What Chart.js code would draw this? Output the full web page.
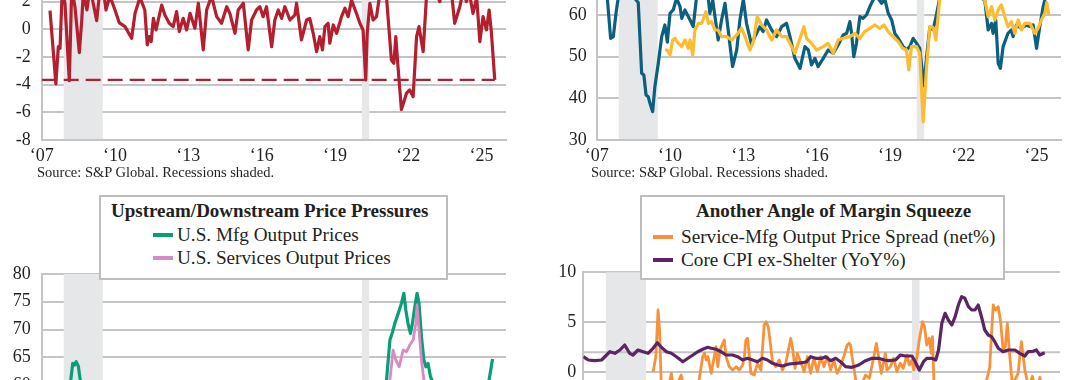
<!DOCTYPE html>
<html>
<head>
<meta charset="utf-8">
<script src="https://cdn.jsdelivr.net/npm/chart.js@4.4.1/dist/chart.umd.min.js"></script>
<style>
  body { margin: 0; background: #fff; }
  #page { position: relative; width: 1080px; height: 380px; overflow: hidden; background: #fff;
          font-family: "Liberation Serif", "Times New Roman", serif; color: #231f20; }
  .box { position: absolute; }
  .src { position: absolute; font-size: 14.5px; line-height: 17px; white-space: nowrap; }
  .legend { position: absolute; box-sizing: border-box; border: 2px solid #bdbdbd; background: #fff; }
  .ltitle { position: absolute; font-weight: bold; font-size: 19px; line-height: 22px; white-space: nowrap; }
  .ltext { position: absolute; font-size: 19.2px; line-height: 22px; white-space: nowrap; }
  .sw { position: absolute; width: 20px; height: 4px; }
</style>
</head>
<body>
<div id="page">
  <div class="box" style="left:0;top:-79px"><canvas id="c1" width="540" height="244"></canvas></div>
  <div class="box" style="left:540px;top:-52px"><canvas id="c2" width="540" height="217"></canvas></div>
  <div class="box" style="left:0;top:248px"><canvas id="c3" width="540" height="300"></canvas></div>
  <div class="box" style="left:540px;top:247px"><canvas id="c4" width="540" height="320"></canvas></div>

  <div class="src" style="left:37px;top:164px">Source: S&amp;P Global. Recessions shaded.</div>
  <div class="src" style="left:591px;top:164px">Source: S&amp;P Global. Recessions shaded.</div>

  <div class="legend" style="left:99px;top:195px;width:349px;height:85px">
    <div class="ltitle" style="left:10px;top:3px">Upstream/Downstream Price Pressures</div>
    <div class="sw" style="left:52px;top:36px;background:#0a9e78"></div>
    <div class="ltext" style="left:76px;top:27px">U.S. Mfg Output Prices</div>
    <div class="sw" style="left:52px;top:59px;background:#d98ac3"></div>
    <div class="ltext" style="left:76px;top:50px">U.S. Services Output Prices</div>
  </div>
  <div class="legend" style="left:640px;top:195px;width:365px;height:85px">
    <div class="ltitle" style="left:54px;top:3px">Another Angle of Margin Squeeze</div>
    <div class="sw" style="left:11px;top:38px;background:#f7923a"></div>
    <div class="ltext" style="left:39px;top:29px">Service-Mfg Output Price Spread (net%)</div>
    <div class="sw" style="left:11px;top:61px;background:#5c2463"></div>
    <div class="ltext" style="left:39px;top:52px">Core CPI ex-Shelter (YoY%)</div>
  </div>
</div>
<script>
// axis ticks and recession bands (decimal years)
const tickYears = [2007, 2010, 2013, 2016, 2019, 2022, 2025];
const recessionStart = [2007.9, 2020.1];
const recessionEnd = [2009.5, 2020.4];

// top left: red spread series
const redDates = [2007.34, 2007.58, 2007.68, 2007.75, 2007.84, 2007.95, 2008.13, 2008.23, 2008.36, 2008.54, 2008.64, 2008.70, 2008.85, 2008.98,
  2009.25, 2009.36, 2009.50, 2009.63, 2009.79, 2010.0, 2010.17, 2010.41, 2010.68, 2010.82, 2011.02, 2011.22, 2011.32, 2011.40, 2011.48,
  2011.57, 2011.68, 2011.77, 2011.91, 2012.04, 2012.22, 2012.38, 2012.52, 2012.63, 2012.79, 2012.93, 2013.07, 2013.27, 2013.41, 2013.61,
  2013.75, 2013.95, 2014.16, 2014.36, 2014.57, 2014.70, 2014.91, 2015.04, 2015.25, 2015.45, 2015.59, 2015.79, 2015.93, 2016.06, 2016.20,
  2016.41, 2016.54, 2016.68, 2016.82, 2016.95, 2017.16, 2017.36, 2017.43, 2017.63, 2017.84, 2017.97, 2018.11, 2018.25, 2018.38, 2018.49,
  2018.59, 2018.72, 2018.79, 2018.93, 2019.07, 2019.27, 2019.41, 2019.54, 2019.68, 2019.88, 2020.02, 2020.15, 2020.26, 2020.32, 2020.43,
  2020.56, 2020.70, 2020.84, 2021.0, 2021.11, 2021.31, 2021.41, 2021.49, 2021.58, 2021.72, 2021.93, 2022.06, 2022.20, 2022.34, 2022.44,
  2022.61, 2022.75, 2022.95, 2023.15, 2023.29, 2023.45, 2023.62, 2023.75, 2023.90, 2024.11, 2024.25, 2024.38, 2024.50, 2024.65, 2024.80,
  2024.93, 2025.06, 2025.20, 2025.31, 2025.40, 2025.54];
const redVals = [1.34, -3.95, -1.26, -1.37, 2.8, 1.9, -3.71, 3.0, 1.63, -1.69, 0.67, 2.6, 1.4, 3.0,
  0.62, 2.5, 3.2, 1.39, 2.4, 1.39, 0.48, 0.19, -0.65, 1.15, 2.3, 1.39, -1.13, -0.53, -0.9,
  0.79, -0.05, 0.67, 1.75, 1.03, 0.43, 0.19, 1.27, -0.17, 0.79, -0.05, 1.15, 0.07, 1.88, -1.49,
  1.39, 2.4, 0.91, 0.43, 1.63, 1.15, -0.29, 1.39, 1.88, -1.49, 0.67, 1.39, 1.63, 0.91, 1.63,
  -1.26, 0.67, 1.39, 0.79, 1.63, 0.67, 1.03, 1.88, -0.77, 0.67, 0.79, -0.29, -1.62, -0.53, -1.49,
  0.19, 0.43, -1.01, 0.31, -0.29, 0.91, 1.52, 0.91, 2.1, 1.15, 0.43, -0.05, -3.66, -0.29, 1.88,
  0.67, 0.91, 2.6, 3.5, 2.3, -2.22, -2.46, -0.53, -2.7, -5.8, -4.62, -4.38, -4.87, -0.53, 0.19,
  -1.62, 2.5, 3.5, 2.6, 2.0, 3.2, 2.4, 3.0, 0.43, 1.63, 2.8, 2.0, 2.6, 1.15, 2.3,
  -0.9, 0.91, -0.05, 1.39, -0.17, -3.66];

// top right: blue and yellow series
const blueDates = [2007.42, 2007.57, 2007.68, 2007.79, 2007.89, 2008.1, 2008.35, 2008.55, 2008.70, 2008.84, 2008.93, 2009.02, 2009.11, 2009.18,
  2009.29, 2009.38, 2009.52, 2009.66, 2009.79, 2009.89, 2010.0, 2010.13, 2010.27, 2010.41, 2010.48, 2010.61, 2010.82, 2010.95, 2011.09,
  2011.3, 2011.57, 2011.63, 2011.75, 2011.97, 2012.11, 2012.25, 2012.38, 2012.56, 2012.73, 2012.86, 2013.0, 2013.13, 2013.34, 2013.47,
  2013.68, 2013.81, 2013.95, 2014.16, 2014.36, 2014.57, 2014.77, 2014.91, 2015.11, 2015.32, 2015.52, 2015.66, 2015.79, 2015.93, 2016.06,
  2016.27, 2016.47, 2016.68, 2016.88, 2017.09, 2017.23, 2017.36, 2017.43, 2017.52, 2017.63, 2017.77, 2017.90, 2018.04, 2018.18, 2018.31,
  2018.45, 2018.66, 2018.79, 2018.93, 2019.07, 2019.20, 2019.34, 2019.54, 2019.68, 2019.81, 2019.95, 2020.09, 2020.22, 2020.39, 2020.50,
  2020.63, 2020.77, 2020.90, 2021.05, 2021.3, 2021.6, 2021.9, 2022.2, 2022.5, 2022.75, 2022.88, 2023.02, 2023.16, 2023.22, 2023.33,
  2023.43, 2023.52, 2023.63, 2023.83, 2023.97, 2024.04, 2024.18, 2024.38, 2024.59, 2024.73, 2024.86, 2025.0, 2025.13, 2025.27, 2025.40, 2025.54];
const blueVals = [65, 54.4, 54.8, 60.4, 64.5, 66, 65, 64, 63, 46.0, 45.6, 40.8, 40.4, 38.8,
  36.8, 42.8, 48.4, 54.8, 57.6, 53.5, 60.4, 61.2, 64, 62, 59.2, 61.2, 58.8, 57.2, 64.5,
  66, 63.8, 60.4, 63.5, 54, 58.8, 62.8, 56.4, 47.6, 51.6, 58.8, 63.8, 58, 52.8, 54.8,
  57.2, 56, 58.8, 56.4, 54.8, 57.2, 58, 54.8, 49.6, 47.2, 52.4, 51.6, 48, 49.6, 47.6,
  49.6, 51.6, 50.8, 52.8, 55.2, 55.6, 58.4, 55.6, 50, 53.2, 59.6, 59.2, 60, 62, 63.6,
  64.5, 62.8, 63.8, 60.4, 58.8, 55.6, 54.4, 52.4, 51.6, 52.4, 54.4, 53.2, 52, 43, 50,
  57, 56.5, 60, 64.5, 66, 65, 64.5, 66, 65, 64, 63.6, 56.4, 58, 55.6, 58.8,
  48.4, 47.2, 52.4, 55.6, 56.4, 54.8, 57.6, 56.8, 57.6, 57.2, 57.6, 52, 57.2, 62, 65, 66];

const yellowDates = [2009.79, 2009.89, 2010.0, 2010.11, 2010.20, 2010.34, 2010.48, 2010.61, 2010.75, 2010.82, 2010.93, 2011.02, 2011.16,
  2011.30, 2011.47, 2011.57, 2011.70, 2011.84, 2011.97, 2012.11, 2012.32, 2012.52, 2012.73, 2012.93, 2013.07, 2013.27, 2013.41, 2013.57,
  2013.75, 2013.95, 2014.16, 2014.36, 2014.57, 2014.77, 2014.98, 2015.11, 2015.32, 2015.48, 2015.59, 2015.79, 2016.0, 2016.27, 2016.47,
  2016.68, 2016.88, 2017.09, 2017.36, 2017.57, 2017.77, 2017.97, 2018.18, 2018.38, 2018.59, 2018.75, 2018.93, 2019.13, 2019.34, 2019.52,
  2019.68, 2019.77, 2019.88, 2020.09, 2020.22, 2020.36, 2020.50, 2020.63, 2020.77, 2020.88, 2021.04, 2021.3, 2021.6, 2021.9, 2022.2,
  2022.5, 2022.75, 2022.88, 2023.02, 2023.16, 2023.29, 2023.43, 2023.56, 2023.70, 2023.83, 2023.97, 2024.11, 2024.25, 2024.38, 2024.52,
  2024.73, 2024.93, 2025.06, 2025.20, 2025.34, 2025.42, 2025.50];
const yellowVals = [51.6, 51.6, 50.4, 54, 54.4, 53.2, 52.4, 54, 52, 54, 50.4, 56.4, 58,
  58, 60.8, 58, 58.4, 56.4, 56.4, 54.8, 54.8, 54, 55.2, 56.8, 54.8, 51.6, 53.6, 59.6,
  57.6, 56.4, 54, 56.4, 54.8, 54.8, 52.4, 50.8, 54.4, 57.2, 54.4, 53.2, 51.6, 52.4, 53.2,
  50.8, 54, 54.4, 54.8, 55.6, 54.4, 56, 56.8, 57.6, 56.8, 57.6, 56, 54.8, 53.6, 52,
  51.6, 46.8, 52.4, 52.4, 50.8, 34.4, 47.6, 57.2, 57, 54, 64, 68, 70, 67, 66,
  65, 64.5, 63.6, 59.6, 62, 58.8, 61.2, 62.4, 59.6, 57.2, 58.4, 55.6, 58.8, 56.4, 58,
  58, 55.6, 56.8, 58.8, 60.4, 63, 60];

// bottom left: output prices
const mfgOutDates = [2007.42, 2007.7, 2007.95, 2008.1, 2008.17, 2008.27, 2008.34, 2008.41, 2008.50, 2008.59, 2008.75, 2009.0, 2009.25,
  2009.5, 2009.8, 2010.2, 2010.6, 2011.0, 2011.3, 2011.7, 2012.2, 2012.6, 2013.0, 2013.5, 2014.0, 2014.5, 2015.0, 2015.5, 2016.0,
  2016.5, 2017.0, 2017.5, 2018.0, 2018.5, 2019.0, 2019.5, 2019.9, 2020.3, 2020.6, 2020.9, 2021.0, 2021.11, 2021.25, 2021.36, 2021.45,
  2021.59, 2021.72, 2021.82, 2021.90, 2021.99, 2022.09, 2022.17, 2022.27, 2022.36, 2022.44, 2022.54, 2022.64, 2022.72, 2022.81, 2022.91,
  2023.02, 2023.2, 2023.5, 2023.8, 2024.1, 2024.5, 2024.9, 2025.1, 2025.28, 2025.45];
const mfgOutVals = [54, 55, 57, 58.5, 60.2, 63.9, 63.6, 64.2, 63.4, 60.5, 55, 42, 44,
  50, 53, 56, 54, 58, 57, 52, 54, 51, 53, 52, 54, 53, 50, 49, 48,
  51, 54, 55, 57, 58, 54, 52, 51, 45, 52, 57, 59, 60.9, 68.1, 69.6, 71.1,
  72.9, 74.7, 76.5, 73.5, 71.1, 69.3, 71.1, 74.1, 76.5, 74.7, 68.7, 64.5, 63.3, 63.9, 61.5,
  60.4, 57, 54, 55, 56, 55, 56, 57, 60.2, 64.7];

const svcOutDates = [2009.8, 2010.2, 2010.6, 2011.0, 2011.5, 2012.0, 2012.5, 2013.0, 2013.5, 2014.0, 2014.5, 2015.0, 2015.5, 2016.0,
  2016.5, 2017.0, 2017.5, 2018.0, 2018.5, 2019.0, 2019.5, 2019.9, 2020.3, 2020.6, 2020.9, 2021.1, 2021.25, 2021.38, 2021.49, 2021.63,
  2021.79, 2021.93, 2022.06, 2022.20, 2022.31, 2022.36, 2022.44, 2022.54, 2022.64, 2022.8, 2023.1, 2023.5, 2024.0, 2024.5, 2025.0, 2025.45];
const svcOutVals = [50, 51, 50, 53, 52, 51, 50, 51, 52, 52, 53, 52, 52, 51,
  52, 53, 53, 54, 55, 54, 53, 52, 42, 49, 54, 57, 60.9, 66.3, 64.5, 63.3,
  66.3, 66, 67.2, 68.1, 71.1, 74.4, 69.9, 64.5, 60.9, 58, 57, 56, 55, 54, 55, 56];

// bottom right: spread and core CPI ex-shelter
const spreadDates = [2009.78, 2009.89, 2009.98, 2010.04, 2010.11, 2010.3, 2010.51, 2010.6, 2010.9, 2011.1, 2011.4, 2011.6, 2011.76, 2011.83,
  2011.9, 2011.97, 2012.1, 2012.29, 2012.36, 2012.45, 2012.56, 2012.62, 2012.69, 2012.82, 2012.95, 2013.09, 2013.22, 2013.35, 2013.42,
  2013.48, 2013.55, 2013.62, 2013.68, 2013.81, 2013.94, 2014.08, 2014.21, 2014.28, 2014.37, 2014.44, 2014.54, 2014.67, 2014.81, 2014.94,
  2015.07, 2015.2, 2015.27, 2015.34, 2015.44, 2015.53, 2015.63, 2015.73, 2015.8, 2015.93, 2016.06, 2016.19, 2016.33, 2016.46, 2016.59,
  2016.72, 2016.86, 2016.99, 2017.12, 2017.25, 2017.38, 2017.52, 2017.59, 2017.65, 2017.71, 2017.8, 2017.9, 2018.1, 2018.25, 2018.4,
  2018.58, 2018.68, 2018.77, 2018.88, 2019.04, 2019.1, 2019.24, 2019.37, 2019.5, 2019.63, 2019.75, 2019.9, 2019.99, 2020.1, 2020.17,
  2020.3, 2020.39, 2020.52, 2020.6, 2020.69, 2020.79, 2020.87, 2020.92, 2020.98, 2021.2, 2021.5, 2021.8, 2022.1, 2022.4, 2022.7,
  2023.0, 2023.2, 2023.27, 2023.34, 2023.43, 2023.54, 2023.64, 2023.73, 2023.82, 2023.9, 2024.0, 2024.1, 2024.33, 2024.46, 2024.6,
  2024.75, 2024.9, 2025.05, 2025.2, 2025.35, 2025.45];
const spreadVals = [0.03, 1.56, 6.23, 4.23, -1.5, -2.5, -0.1, -2.0, -0.27, -2.5, -3.0, -1.0, 1.56, 1.9,
  1.23, 1.56, -0.1, 2.56, 0.56, 2.23, 2.9, 3.23, 1.56, 0.56, 0.23, 0.56, 0.23, 0.73, 1.56,
  3.23, 3.4, 1.56, -0.1, -0.27, 0.9, 0.23, 4.73, 5.06, 4.56, 3.23, 1.06, 0.56, 1.23, 0.23,
  0.9, 2.56, 3.4, 2.4, 0.4, 1.9, 1.23, 0.6, 0.06, 1.56, -0.1, 1.4, 0.06, 1.56, 0.56,
  1.56, 0.23, 1.23, -0.1, 0.6, 1.56, 2.73, 2.9, 2.73, 1.56, 0.2, -1.5, -1.2, -0.27, -0.6,
  1.56, 2.9, 1.56, -0.1, 1.9, 0.23, 0.56, 1.4, 0.06, 0.9, 0.4, 1.73, 0.73, 1.23, 0.23,
  1.56, 3.23, 5.06, 4.56, 2.73, 3.4, 1.9, 3.56, -1.5, -5, -8, -9, -10, -7, -4,
  -1.5, 0.5, 3.9, 6.73, 6.23, 6.56, 4.9, 2.23, 2.56, 4.9, 1.56, -1.2, -0.1, 3.06, 0.23,
  -1.5, -0.4, -2.0, -0.5, -3.0, -5.5];

const cpiDates = [2007.0, 2007.2, 2007.46, 2007.73, 2007.93, 2008.06, 2008.26, 2008.46, 2008.65, 2008.85, 2008.98, 2009.18, 2009.38, 2009.58,
  2009.78, 2009.95, 2010.11, 2010.31, 2010.51, 2010.71, 2010.97, 2011.17, 2011.37, 2011.56, 2011.76, 2011.96, 2012.1, 2012.29, 2012.49,
  2012.69, 2012.95, 2013.15, 2013.35, 2013.55, 2013.75, 2013.94, 2014.14, 2014.34, 2014.54, 2014.74, 2014.94, 2015.2, 2015.47, 2015.73,
  2015.9, 2016.06, 2016.26, 2016.52, 2016.66, 2016.86, 2017.06, 2017.25, 2017.45, 2017.71, 2017.98, 2018.25, 2018.51, 2018.77, 2019.0,
  2019.17, 2019.44, 2019.64, 2019.83, 2020.1, 2020.23, 2020.39, 2020.56, 2020.69, 2020.89, 2021.05, 2021.16, 2021.29, 2021.42, 2021.55,
  2021.69, 2021.82, 2021.95, 2022.08, 2022.21, 2022.35, 2022.48, 2022.61, 2022.74, 2022.87, 2023.0, 2023.14, 2023.27, 2023.4, 2023.54,
  2023.73, 2023.93, 2024.2, 2024.4, 2024.6, 2024.73, 2024.92, 2025.06, 2025.19, 2025.39];
const cpiVals = [1.56, 1.23, 1.16, 1.23, 1.73, 2.06, 1.9, 2.23, 2.73, 1.9, 1.73, 2.23, 2.06, 1.9,
  2.4, 2.96, 2.5, 2.06, 1.9, 1.56, 1.06, 1.4, 1.73, 2.06, 2.3, 2.5, 2.4, 2.3, 2.06,
  1.73, 1.73, 1.56, 1.23, 1.4, 1.23, 1.06, 1.4, 1.23, 0.9, 0.73, 0.63, 0.83, 0.9, 0.96,
  1.06, 1.56, 1.4, 1.4, 1.56, 1.16, 1.4, 1.06, 0.56, 0.5, 0.73, 1.16, 1.4, 1.4, 1.23,
  1.16, 1.23, 1.73, 1.63, 1.63, 1.06, 0.23, 1.06, 1.4, 1.4, 1.23, 2.23, 4.9, 5.9, 5.23,
  4.73, 5.56, 6.73, 7.56, 7.4, 6.56, 6.23, 6.23, 6.73, 5.56, 4.23, 3.73, 3.56, 3.06, 2.4,
  2.06, 2.23, 2.23, 1.9, 1.63, 2.06, 2.1, 2.23, 1.73, 1.96];
const cpiTargetLine = 2;

const gridGray = '#c4c4c4';
const textColor = '#231f20';
Chart.defaults.font.family = "'Liberation Serif', 'Times New Roman', serif";

function pts(dates, vals) {
  return dates.map((d, i) => ({ x: d, y: vals[i] }));
}

function line(data, color, width) {
  return { data: data, borderColor: color, borderWidth: width, pointRadius: 0, tension: 0,
           borderJoinStyle: 'round', fill: false };
}

const shadePlugin = {
  id: 'shade',
  beforeDatasetsDraw(chart, args, opts) {
    const { ctx, chartArea: a, scales } = chart;
    const x = scales.x, y = scales.y;
    ctx.save();
    ctx.fillStyle = '#e6e7e8';
    recessionStart.forEach((s, i) => {
      const x0 = x.getPixelForValue(s), x1 = x.getPixelForValue(recessionEnd[i]);
      ctx.fillRect(x0, a.top, x1 - x0, a.bottom - a.top - 1);
    });
    if (opts && opts.refLine !== undefined) {
      const py = y.getPixelForValue(opts.refLine);
      ctx.strokeStyle = gridGray;
      ctx.lineWidth = 2;
      ctx.beginPath();
      ctx.moveTo(a.left, py);
      ctx.lineTo(a.right, py);
      ctx.stroke();
    }
    ctx.restore();
  }
};

function makeOptions(o) {
  return {
    responsive: false,
    animation: false,
    events: [],
    layout: { autoPadding: false, padding: { top: o.padTop, right: o.padRight, bottom: o.padBottom || 0, left: 0 } },
    plugins: { legend: { display: false }, tooltip: { enabled: false }, shade: o.shade || {} },
    scales: {
      x: {
        type: 'linear', min: 2007, max: 2026, display: o.showX,
        grid: { display: false, drawTicks: false },
        border: { display: true, color: gridGray, width: 2 },
        ticks: {
          autoSkip: false, maxRotation: 0, padding: 5, color: textColor, font: { size: 18 },
          callback: v => '\u2018' + String(v).slice(2)
        },
        afterBuildTicks: s => { s.ticks = tickYears.map(v => ({ value: v })); },
        afterFit: s => { s.height = o.xHeight || 0; }
      },
      y: {
        min: o.yMin, max: o.yMax,
        grid: { color: gridGray, lineWidth: 2, drawTicks: false },
        border: { color: gridGray, width: 2 },
        ticks: { stepSize: o.step, padding: o.tickPad, color: textColor, font: { size: 18 } },
        afterFit: s => { s.width = o.yWidth; }
      }
    }
  };
}

const lastRed = redVals[redVals.length - 1];
const lastRedDate = redDates[redDates.length - 1];

new Chart('c1', {
  type: 'line',
  data: {
    datasets: [
      line(pts(redDates, redVals), '#b31f2e', 3.2),
      Object.assign(line([{ x: 2007, y: lastRed }, { x: lastRedDate, y: lastRed }], '#b31f2e', 2.2), { borderDash: [15, 7] })
    ]
  },
  options: makeOptions({ padTop: 25.2, padRight: 34, yMin: -8, yMax: 6, step: 2, yWidth: 41.7, tickPad: 11, showX: true, xHeight: 25 }),
  plugins: [shadePlugin]
});

new Chart('c2', {
  type: 'line',
  data: {
    datasets: [
      line(pts(yellowDates, yellowVals), '#fdbb30', 3.2),
      line(pts(blueDates, blueVals), '#0b5f80', 3.2)
    ]
  },
  options: makeOptions({ padTop: 25.3, padRight: 19, yMin: 30, yMax: 70, step: 10, yWidth: 56.7, tickPad: 10, showX: true, xHeight: 25 }),
  plugins: [shadePlugin]
});

new Chart('c3', {
  type: 'line',
  data: {
    datasets: [
      line(pts(svcOutDates, svcOutVals), '#d98ac3', 2.8),
      line(pts(mfgOutDates, mfgOutVals), '#0a9e78', 3.2)
    ]
  },
  options: makeOptions({ padTop: 25.9, padRight: 34, padBottom: 51.7, yMin: 40, yMax: 80, step: 5, yWidth: 41.7, tickPad: 11, showX: false }),
  plugins: [shadePlugin]
});

new Chart('c4', {
  type: 'line',
  data: {
    datasets: [
      line(pts(cpiDates, cpiVals), '#5c2463', 3.2),
      line(pts(spreadDates, spreadVals), '#f7923a', 2.8)
    ]
  },
  options: makeOptions({ padTop: 25.3, padRight: 20, padBottom: 44.7, yMin: -15, yMax: 10, step: 5, yWidth: 43.3, tickPad: 7, showX: false,
    shade: { refLine: cpiTargetLine } }),
  plugins: [shadePlugin]
});
</script>
</body>
</html>
